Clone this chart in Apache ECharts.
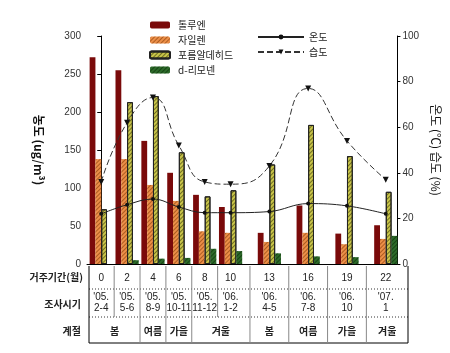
<!DOCTYPE html>
<html>
<head>
<meta charset="utf-8">
<script src="https://cdn.jsdelivr.net/npm/echarts@6/dist/echarts.min.js"></script>
<style>
html, body { margin: 0; padding: 0; background: #fff; }
#chart { width: 450px; height: 353px; }
</style>
</head>
<body>
<div id="chart"></div>
<script>
// 거주기간(월) 과 조사시기, 계절
var months = [0, 2, 4, 6, 8, 10, 13, 16, 19, 22];
var periods = ["'05.\n2-4", "'05.\n5-6", "'05.\n8-9", "'05.\n10-11", "'05.\n11-12",
    "'06.\n1-2", "'06.\n4-5", "'06.\n7-8", "'06.\n10", "'07.\n1"];
var seasonNames = ['봄', '여름', '가을', '겨울', '봄', '여름', '가을', '겨울'];
var seasonSpans = [2, 1, 1, 2, 1, 1, 1, 1];

// 농도 (ug/m3)
var toluene = [272, 255, 162, 120, 91, 75, 41, 77, 40, 51];
var xylene = [138, 138, 104, 83, 43, 41, 29, 41, 26, 33];
var formaldehyde = [72, 213, 221, 147, 89, 97, 131, 183, 142, 95];
var limonene = [0, 5, 7, 8, 20, 17, 14, 10, 9, 37];

// 온도, 습도
var temperature = [22, 26, 28.5, 25, 22.5, 22.5, 23, 26.5, 25.5, 22];
var humidity = [36, 62, 73, 52, 36, 35, 43, 77, 54, 37];

var KR = "'Noto Sans CJK KR', sans-serif";
var NUM = "'Liberation Sans', Arial, sans-serif";

function pairs(vals) {
    return months.map(function (m, i) { return [m, vals[i]]; });
}

function hatch(col) {
    return {
        symbol: 'rect',
        symbolSize: 1,
        dashArrayX: [1, 0],
        dashArrayY: [1, 1.5],
        rotation: -Math.PI / 4,
        color: col
    };
}

var chart = echarts.init(document.getElementById('chart'));

var option = {
    animation: false,
    grid: { left: 87, right: 41, top: 36, bottom: 89 },
    legend: [{
        data: ['톨루엔', '자일렌', '포름알데히드', 'd-리모넨'],
        orient: 'vertical',
        left: 144,
        top: 15,
        itemWidth: 20,
        itemHeight: 7,
        itemGap: 5,
        textStyle: { fontFamily: KR, fontSize: 10, color: '#222', padding: [0, 0, 0, 3] }
    }, {
        data: ['온도', '습도'],
        orient: 'vertical',
        left: 252,
        top: 27,
        itemWidth: 46,
        itemHeight: 6,
        itemGap: 5,
        textStyle: { fontFamily: KR, fontSize: 10, color: '#222' }
    }],
    xAxis: {
        type: 'value',
        min: -1.1,
        max: 22.9,
        splitLine: { show: false },
        axisLine: { lineStyle: { color: '#000', width: 1 } },
        axisTick: { show: true, inside: true, length: 4, customValues: months, lineStyle: { color: '#000' } },
        axisLabel: {
            customValues: months,
            margin: 9,
            fontFamily: NUM,
            fontSize: 10,
            color: '#222'
        }
    },
    yAxis: [{
        type: 'value',
        min: 0,
        max: 300,
        interval: 50,
        name: '농도 (ug/m³)',
        nameLocation: 'middle',
        nameRotate: -90,
        nameGap: 42,
        nameTextStyle: { fontFamily: KR, fontSize: 12, fontWeight: 'bold', color: '#111' },
        splitLine: { show: false },
        axisLine: { show: true, lineStyle: { color: '#000' } },
        axisTick: { show: true, length: 4, lineStyle: { color: '#000' } },
        axisLabel: { fontFamily: NUM, fontSize: 10, color: '#333', margin: 6 }
    }, {
        type: 'value',
        min: 0,
        max: 100,
        interval: 20,
        name: '온도 (℃) 습도 (%)',
        nameLocation: 'middle',
        nameRotate: -90,
        nameGap: 30,
        nameTextStyle: { fontFamily: KR, fontSize: 12, color: '#111' },
        splitLine: { show: false },
        axisLine: { show: true, lineStyle: { color: '#000' } },
        axisTick: { show: true, length: 3, lineStyle: { color: '#000' } },
        axisLabel: { fontFamily: NUM, fontSize: 10, color: '#333', margin: 5 }
    }],
    series: [{
        name: '톨루엔',
        type: 'bar',
        barWidth: 5.8,
        barGap: '0%',
        itemStyle: { color: '#7a0a0a' },
        data: pairs(toluene)
    }, {
        name: '자일렌',
        type: 'bar',
        barWidth: 5.8,
        barGap: '0%',
        itemStyle: { color: '#ec8f48', decal: hatch('rgba(120,50,0,0.55)') },
        data: pairs(xylene)
    }, {
        name: '포름알데히드',
        type: 'bar',
        barWidth: 5.8,
        barGap: '0%',
        itemStyle: { color: '#c9c54a', borderColor: '#222', borderWidth: 1, decal: hatch('rgba(40,40,0,0.55)') },
        data: pairs(formaldehyde)
    }, {
        name: 'd-리모넨',
        type: 'bar',
        barWidth: 5.8,
        barGap: '0%',
        itemStyle: { color: '#2d6a2a', decal: hatch('rgba(0,30,0,0.5)') },
        data: pairs(limonene)
    }, {
        name: '온도',
        type: 'line',
        yAxisIndex: 1,
        smooth: 0.4,
        symbol: 'circle',
        symbolSize: 4,
        lineStyle: { color: '#222', width: 1 },
        itemStyle: { color: '#111' },
        data: pairs(temperature)
    }, {
        name: '습도',
        type: 'line',
        yAxisIndex: 1,
        smooth: 0.5,
        symbol: 'triangle',
        symbolRotate: 180,
        symbolSize: 6,
        lineStyle: { color: '#333', width: 1, type: [6, 3] },
        itemStyle: { color: '#111' },
        data: pairs(humidity)
    }]
};

chart.setOption(option);

// 표 (거주기간, 조사시기, 계절)
function px(m) {
    return chart.convertToPixel({ xAxisIndex: 0 }, m);
}

var tTop = 266, r1 = 289, r2 = 317, tBot = 343;
var xLeft = 89, xRight = 408;
var g = [];

function hline(y, dash, col) {
    g.push({ type: 'line', silent: true, shape: { x1: xLeft, y1: y, x2: xRight, y2: y },
        style: { stroke: col, lineWidth: 1, lineDash: dash } });
}
function vline(x, y1, y2, col) {
    g.push({ type: 'line', silent: true, shape: { x1: x, y1: y1, x2: x, y2: y2 },
        style: { stroke: col, lineWidth: 1 } });
}
function label(txt, x, y, font, align) {
    g.push({ type: 'text', silent: true, x: x, y: y,
        style: { text: txt, font: font, fill: '#222', align: align || 'center', verticalAlign: 'middle', lineHeight: 11 } });
}

hline(r1, [1, 2], '#333');
hline(r2, [1, 2], '#333');
hline(tBot, null, '#000');
vline(xLeft, tTop, tBot, '#000');
vline(xRight, tTop, tBot, '#000');

// 열 경계
var bounds = [];
for (var i = 1; i < months.length; i++) {
    bounds.push(px((months[i - 1] + months[i]) / 2));
}
bounds.forEach(function (x) { vline(x, tTop, r2, '#888'); });

// 계절 경계
var col = 0;
seasonSpans.forEach(function (span, k) {
    var x0 = col === 0 ? xLeft : bounds[col - 1];
    var x1 = col + span >= months.length ? xRight : bounds[col + span - 1];
    if (col > 0) vline(x0, r2, tBot, '#888');
    label(seasonNames[k], (x0 + x1) / 2, 331, "bold 10px " + KR);
    col += span;
});

periods.forEach(function (p, i) {
    label(p, px(months[i]), 303, "10px " + NUM);
});

label('거주기간(월)', 83, 277, "bold 10px " + KR, 'right');
label('조사시기', 81, 304, "bold 10px " + KR, 'right');
label('계절', 81, 331, "bold 10px " + KR, 'right');

chart.setOption({ graphic: g });
</script>
</body>
</html>
